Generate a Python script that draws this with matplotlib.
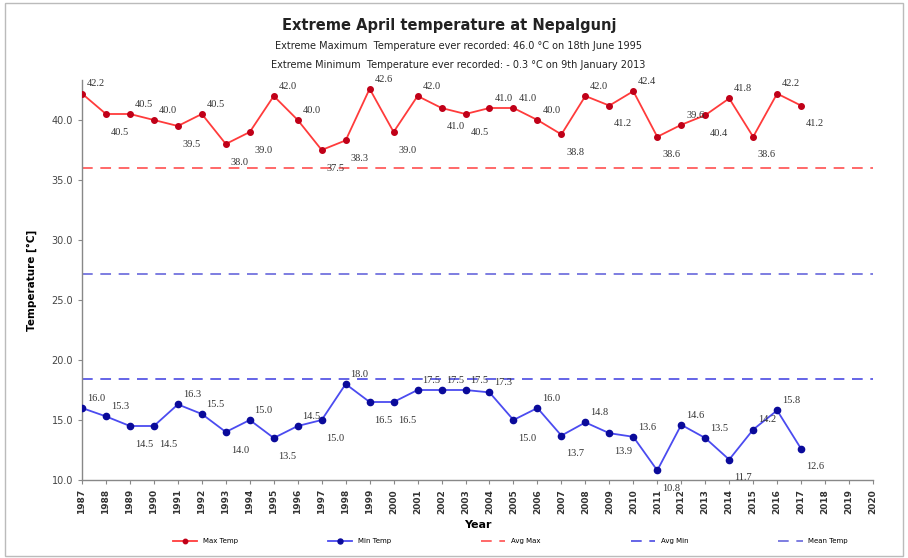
import matplotlib
matplotlib.use("Agg")
import matplotlib.pyplot as plt
from matplotlib.patches import Rectangle

years = list(range(1987, 2018))
max_temp = [42.2, 40.5, 40.5, 40.0, 39.5, 40.5, 38.0, 39.0, 42.0, 40.0, 37.5,
            38.3, 42.6, 39.0, 42.0, 41.0, 40.5, 41.0, 41.0, 40.0, 38.8, 42.0,
            41.2, 42.4, 38.6, 39.6, 40.4, 41.8, 38.6, 42.2, 41.2]
min_temp = [16.0, 15.3, 14.5, 14.5, 16.3, 15.5, 14.0, 15.0, 13.5, 14.5, 15.0,
            18.0, 16.5, 16.5, 17.5, 17.5, 17.5, 17.3, 15.0, 16.0, 13.7, 14.8,
            13.9, 13.6, 10.8, 14.6, 13.5, 11.7, 14.2, 15.8, 12.6]
avg_max = 36.0
avg_min = 18.4
mean_temp = 27.2
tick_years = list(range(1987, 2021))
yticks = [10, 15, 20, 25, 30, 35, 40]

title = "Extreme April temperature at Nepalgunj"
sub1 = "Extreme Maximum  Temperature ever recorded: 46.0 \u00b0C on 18th June 1995"
sub2 = "Extreme Minimum  Temperature ever recorded: - 0.3 \u00b0C on 9th January 2013"

fig = plt.figure(figsize=(9.08, 5.58), dpi=100)
fig.patches.append(Rectangle((0.006, 0.004), 0.988, 0.99, transform=fig.transFigure,
                             fill=False, edgecolor="#bbbbbb", linewidth=1.0))
ax = fig.add_axes([82/908, 1-480/558, (873-82)/908, 400/558])

ax.plot(years, max_temp, color="#ff3b3b", linewidth=1.3, marker="o",
        markersize=4, markerfacecolor="#c00018", markeredgecolor="#c00018",
        label="Max Temp", zorder=3)
ax.plot(years, min_temp, color="#4b4bf0", linewidth=1.3, marker="o",
        markersize=4.5, markerfacecolor="#0a0a9a", markeredgecolor="#0a0a9a",
        label="Min Temp", zorder=3)
ax.axhline(avg_max, color="#ff4040", linestyle=(0, (7, 5)), linewidth=1.1, label="Avg Max")
ax.axhline(avg_min, color="#3a3ae0", linestyle=(0, (7, 5)), linewidth=1.1, label="Avg Min")
ax.axhline(mean_temp, color="#5a5ad8", linestyle=(0, (7, 5)), linewidth=1.1, label="Mean Temp")

def place(vals, i):
    prev = vals[i-1] if i > 0 else vals[i+1]
    nxt = vals[i+1] if i < len(vals)-1 else vals[i-1]
    return vals[i] >= (prev + nxt) / 2

for series in (max_temp, min_temp):
    for i, (x, v) in enumerate(zip(years, series)):
        up = place(series, i)
        ax.annotate(f"{v:.1f}", (x, v), xytext=(10, 7 if up else -13),
                    textcoords="offset points", ha="center", va="center",
                    fontsize=7.5, family="Liberation Serif", color="#333333")

ax.set_xlim(1987, 2020)
ax.set_ylim(10, 10 + 400/12)
ax.set_xticks(tick_years)
ax.set_xticklabels([str(y) for y in tick_years], rotation=90, fontsize=6.5,
                   fontweight="bold", color="#333333")
ax.set_yticks(yticks)
ax.set_yticklabels([f"{y:.1f}" for y in yticks], fontsize=7, color="#444444")
for s in ("top", "right"):
    ax.spines[s].set_visible(False)
for s in ("left", "bottom"):
    ax.spines[s].set_color("#888888")
    ax.spines[s].set_linewidth(1.0)
ax.tick_params(axis="both", direction="out", length=3, color="#888888")
ax.set_xlabel("Year", fontsize=8, fontweight="bold", labelpad=4)
ax.set_ylabel("Temperature [\u00b0C]", fontsize=7.5, fontweight="bold", labelpad=10)

fig.text(0.495, 0.955, title, ha="center", va="center", fontsize=10.5, fontweight="bold", color="#222222")
fig.text(0.505, 0.917, sub1, ha="center", va="center", fontsize=7, color="#222222")
fig.text(0.505, 0.884, sub2, ha="center", va="center", fontsize=7, color="#222222")

fig.legend(loc="center", bbox_to_anchor=(0.562, 0.03), ncol=5, frameon=False,
           fontsize=5, columnspacing=13, handlelength=3.5, markerscale=0.8)

fig.savefig("out.png", dpi=100)
